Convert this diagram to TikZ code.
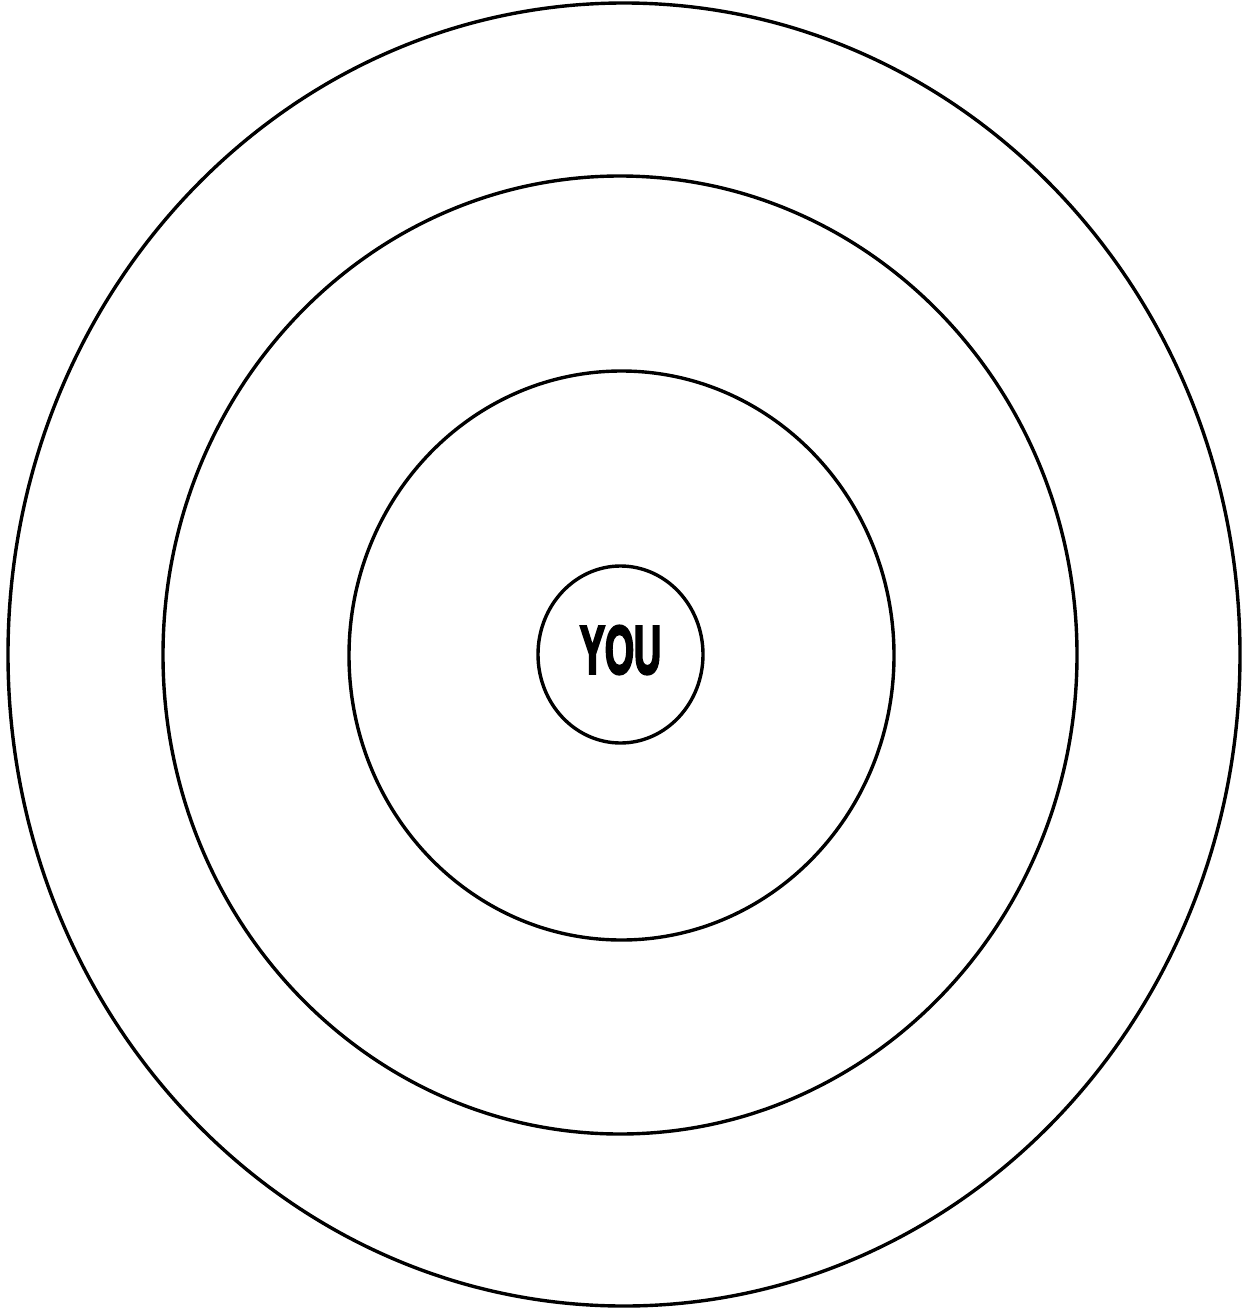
\documentclass[tikz,border=0pt]{standalone}
\usepackage{fontspec}
\setmainfont{Liberation Sans}
\newfontfamily\youfont[BoldFeatures={FakeBold=4.5}]{Liberation Sans}
\usetikzlibrary{shapes.geometric}
\tikzset{
  ring/.style={draw=black, ellipse, line width=1.7pt, inner sep=0pt, outer sep=0pt},
  youtext/.style={font=\youfont\fontsize{34}{34}\selectfont\bfseries, inner sep=0pt, xscale=0.55}
}
\begin{document}
\begin{tikzpicture}[x=0.5pt,y=-0.5pt]
\useasboundingbox[fill=white] (0,0) rectangle (1249,1311);
\node[ring, minimum width=1232*0.5pt, minimum height=1303*0.5pt] (outer) at (624,654.5) {};
\node[ring, minimum width=914*0.5pt, minimum height=958*0.5pt] (second) at (620,655) {};
\node[ring, minimum width=545*0.5pt, minimum height=569*0.5pt] (third) at (621.5,655.5) {};
\node[ring, minimum width=165*0.5pt, minimum height=177*0.5pt] (core) at (620.5,654.5) {};
\node[youtext] (you) at (620.5,650) {YOU};
\end{tikzpicture}
\end{document}
